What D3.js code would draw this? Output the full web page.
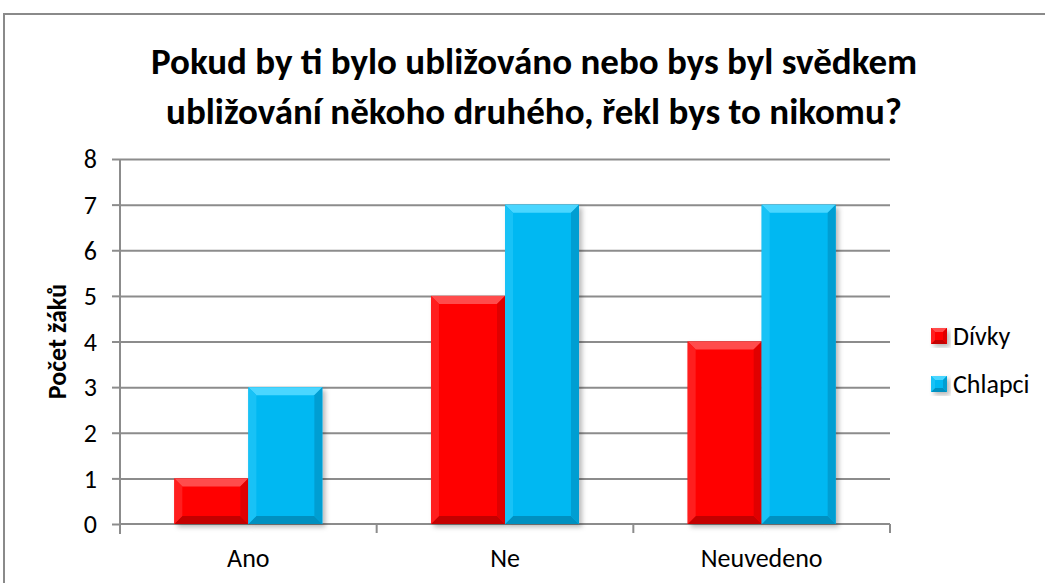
<!DOCTYPE html>
<html>
<head>
<meta charset="utf-8">
<script src="https://cdn.jsdelivr.net/npm/d3@7"></script>
<style>
  body { margin: 0; background: #fff; }
  svg { display: block; font-family: Calibri, Carlito, Lato, sans-serif; }
  .grid line { stroke: #8c8c8c; stroke-width: 2; }
  .axis path, .axis line { stroke: #8c8c8c; stroke-width: 2; }
  .axis text { fill: #000; font-size: 26px; font-family: Calibri, Carlito, Lato, sans-serif; }
</style>
</head>
<body>
<svg id="chart" width="1045" height="583"></svg>
<script>
// data
let categories = ['Ano', 'Ne', 'Neuvedeno']
let seriesNames = ['Dívky', 'Chlapci']
let divky = [1, 5, 4]
let chlapci = [3, 7, 7]
let yTicks = [0, 1, 2, 3, 4, 5, 6, 7, 8]
let titleLines = ['Pokud by ti bylo ubližováno nebo bys byl svědkem', 'ubližování někoho druhého, řekl bys to nikomu?']
let yLabel = 'Počet žáků'

function getConfig(){
    let width = 1045, height = 583
    let margin = { top: 159, bottom: 59, left: 120, right: 155 }
    let container = d3.select('#chart')
    let colors = {
        'Dívky': { base: '#ff0000', top: '#ff4c4c', left: '#ff1e1e', right: '#e00000', bottom: '#c40000' },
        'Chlapci': { base: '#00b8f2', top: '#4ad6ff', left: '#18c2f6', right: '#009ed2', bottom: '#0090c0' }
    }
    return { width, height, margin, container, colors }
}

function getScales(config){
    let { width, height, margin } = config
    let xScale = d3.scaleBand()
        .domain(categories)
        .range([margin.left, width - margin.right])
    let xSub = d3.scaleBand()
        .domain(seriesNames)
        .range([0, xScale.bandwidth()])
        .paddingOuter(0.734)
    let yScale = d3.scaleLinear()
        .domain([0, 8])
        .range([height - margin.bottom, margin.top])
    return { xScale, xSub, yScale }
}

function drawFrame(config){
    let { container } = config
    container.append('path')
        .attr('d', 'M4,600 V14 H1060')
        .attr('fill', 'none')
        .attr('stroke', '#8a8a8a')
        .attr('stroke-width', 2)

    let defs = container.append('defs')
    let f = defs.append('filter').attr('id', 'shadow')
        .attr('x', '-10%').attr('y', '-10%').attr('width', '130%').attr('height', '130%')
    f.append('feDropShadow')
        .attr('dx', 3).attr('dy', 3).attr('stdDeviation', 2.5)
        .attr('flood-color', '#000').attr('flood-opacity', 0.28)

    let title = container.append('text')
        .attr('text-anchor', 'middle')
        .style('font-weight', 'bold')
        .style('font-size', '37px')
    titleLines.forEach((t, i) => {
        title.append('tspan')
            .attr('x', 534)
            .attr('y', 74 + i * 50)
            .text(t)
    })
}

function drawAxes(scales, config){
    let { xScale, yScale } = scales
    let { container, margin, width } = config

    container.append('g')
        .attr('class', 'grid')
        .attr('transform', `translate(${margin.left},0)`)
        .call(d3.axisLeft(yScale).tickValues(yTicks.slice(1)).tickSize(-(width - margin.left - margin.right)).tickFormat(''))
        .call(g => g.select('.domain').remove())

    let axisY = d3.axisLeft(yScale).tickValues(yTicks).tickSize(8).tickPadding(15).tickSizeOuter(0)
    container.append('g')
        .attr('class', 'axis')
        .attr('transform', `translate(${margin.left},0)`)
        .call(axisY)
        .call(g => g.select('.domain').attr('d', `M0,${yScale(8)}V${yScale(0) + 10}`))
        .call(g => g.selectAll('text').attr('dy', '0.34em'))

    let edges = [margin.left].concat(categories.map(c => xScale(c) + xScale.bandwidth()))
    let axisX = container.append('g')
        .attr('class', 'axis')
    axisX.append('path')
        .attr('d', `M${margin.left},${yScale(0)}H${width - margin.right}`)
    axisX.selectAll('line')
        .data(edges)
        .join('line')
        .attr('x1', d => d).attr('x2', d => d)
        .attr('y1', yScale(0)).attr('y2', yScale(0) + 9)
    axisX.selectAll('text')
        .data(categories)
        .join('text')
        .attr('x', d => xScale(d) + xScale.bandwidth() / 2)
        .attr('y', yScale(0) + 43)
        .attr('text-anchor', 'middle')
        .text(d => d)

    container.append('text')
        .attr('transform', `translate(66,${(yScale(0) + yScale(8)) / 2}) rotate(-90)`)
        .attr('text-anchor', 'middle')
        .style('font-weight', 'bold')
        .style('font-size', '26px')
        .text(yLabel)
}

// rectangle with Excel-like bevel: four trapezoids over a base fill
function bevelRect(g, x, y, w, h, c, b){
    b = Math.min(b, w / 2, h / 2)
    g.append('rect').attr('x', x).attr('y', y).attr('width', w).attr('height', h)
        .attr('fill', c.base).attr('filter', 'url(#shadow)')
    let faces = [
        { fill: c.top, pts: [[x, y], [x + w, y], [x + w - b, y + b], [x + b, y + b]] },
        { fill: c.bottom, pts: [[x, y + h], [x + w, y + h], [x + w - b, y + h - b], [x + b, y + h - b]] },
        { fill: c.left, pts: [[x, y], [x + b, y + b], [x + b, y + h - b], [x, y + h]] },
        { fill: c.right, pts: [[x + w, y], [x + w - b, y + b], [x + w - b, y + h - b], [x + w, y + h]] }
    ]
    faces.forEach(f => {
        g.append('polygon').attr('points', f.pts.map(p => p.join(',')).join(' ')).attr('fill', f.fill)
    })
}

function drawBars(scales, config){
    let { xScale, xSub, yScale } = scales
    let { container, colors } = config
    let body = container.append('g')
    let values = { 'Dívky': divky, 'Chlapci': chlapci }
    categories.forEach((cat, i) => {
        seriesNames.forEach(s => {
            let v = values[s][i]
            let x = xScale(cat) + xSub(s)
            bevelRect(body, x, yScale(v), xSub.bandwidth(), yScale(0) - yScale(v), colors[s], 8)
        })
    })
}

function drawLegend(config){
    let { container, colors } = config
    let legend = container.append('g')
    seriesNames.forEach((s, i) => {
        let y = 336 + i * 48
        bevelRect(legend, 931, y - 8, 16, 16, colors[s], 4)
        legend.append('text')
            .attr('x', 953)
            .attr('y', y)
            .attr('dy', '0.36em')
            .style('font-size', '26px')
            .text(s)
    })
}

function drawChart(){
    let config = getConfig()
    let scales = getScales(config)
    drawFrame(config)
    drawAxes(scales, config)
    drawBars(scales, config)
    drawLegend(config)
}

drawChart()
</script>
</body>
</html>
